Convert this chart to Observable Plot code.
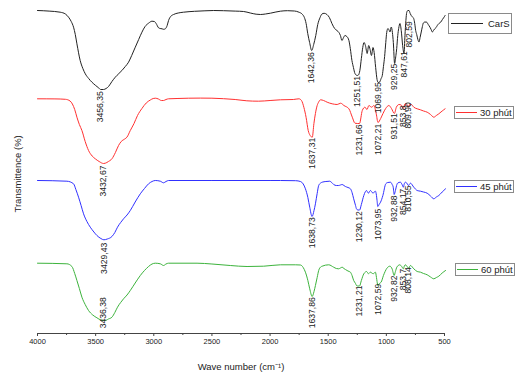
<!DOCTYPE html>
<html>
<head>
<meta charset="utf-8">
<script src="https://cdn.jsdelivr.net/npm/d3@7"></script>
<script src="https://cdn.jsdelivr.net/npm/@observablehq/plot@0.6"></script>
<style>
  html, body { margin: 0; padding: 0; background: #fff; }
  #wrap { position: relative; width: 526px; height: 379px; }
  #wrap svg { position: absolute; left: 0; top: 0; }
</style>
</head>
<body>
<div id="wrap"></div>
<script>
// ---- Data (wave number cm-1, stacked transmittance a.u.) ----
const seriesNames = ["CarS", "30 phút", "45 phút", "60 phút"];
const seriesColors = ["#222222", "#ff3030", "#3030ff", "#3cb33c"];

const carS = [
[4000,323],[3900,322.4],[3805,321.3],[3760,319.5],[3733,316.3],[3710,312],[3690,306.3],[3675,299],[3661,289.7],
[3633,273],[3610,265],[3589,259.7],[3560,255],[3532,251.3],[3500,248],[3475,245.7],[3456,244],[3432,244],[3410,245],
[3389,247],[3360,252],[3331,256.3],[3300,260],[3274,263],[3245,267],[3217,271.3],[3190,278],[3159,286.3],[3130,294],
[3102,301.3],[3075,307],[3045,310.3],[3015,312.3],[2995,312],[2980,310],[2959,305.7],[2945,305],[2929,304.7],[2915,304.2],
[2901,304.7],[2885,308],[2873,313],[2855,317],[2830,319],[2790,320.5],[2744,321.3],[2650,322.2],[2560,322.7],[2485,323],
[2400,322.8],[2300,322.4],[2227,322],[2170,320.5],[2120,319.3],[2083,319],[2040,319.5],[1997,320.3],[1950,321.5],[1911,322.3],
[1850,322.8],[1790,322.5],[1752,321.3],[1725,319.5],[1705,316],[1690,310],[1676,300],[1660,291],[1642,283],[1625,289],
[1607,298],[1590,309],[1570,316],[1554,319.5],[1535,320.2],[1511,319],[1490,316],[1468,310],[1445,305],[1425,303],
[1408,301],[1395,298],[1382,293],[1368,296],[1356,298],[1340,297],[1322,293],[1310,285],[1296,273],[1283,266],[1270,260],
[1251,258],[1240,258.5],[1228,263],[1215,275],[1203,286],[1192,291],[1180,288],[1165,280],[1152,288],[1140,284],[1128,278],
[1115,286],[1105,281],[1092,266],[1080,254],[1070,251],[1058,251.5],[1045,255],[1035,258],[1025,267],[1015,277],[1005,291],
[997,301],[986,305],[975,303],[969,301.5],[958,306.5],[948,301],[940,291],[929,270],[918,278],[911,285],[902,298],[894,305],
[883,310],[872,303],[860,288],[848,280],[840,298],[832,313],[825,321],[815,323],[805,323],[795,320],[786,318],[775,316.5],
[765,315],[756,310],[748,303],[739,299],[729,294],[719,291.5],[710,296],[700,301.5],[690,307],[682,310.5],[668,311.5],
[653,311.3],[640,309],[625,306.3],[615,304],[605,301.5],[595,303],[584,304.7],[572,306],[562,308],[548,310],[533,311.3],
[518,314],[504,316.3],[495,318]
];

const t30 = [
[4000,234.7],[3850,234.6],[3760,234.2],[3720,232.5],[3700,229.5],[3680,224],[3661,216.3],[3640,209],[3618,203],[3590,192],
[3561,183],[3530,177.5],[3503,174.7],[3470,172],[3432,170],[3417,170.3],[3390,172],[3360,174.7],[3330,181],[3303,188],
[3280,192],[3250,194.5],[3231,196.3],[3202,203],[3170,210],[3140,218],[3102,225],[3065,230.5],[3030,233.5],[3005,235],
[2987,235.3],[2960,234.5],[2935,233],[2916,233],[2895,234],[2873,234.7],[2800,235],[2700,235.3],[2600,235.4],[2500,235.3],
[2400,234.8],[2300,234],[2200,232.7],[2100,232.3],[2000,233],[1911,233.7],[1800,234],[1752,234.7],[1730,233],[1709,226],
[1690,216],[1672,203],[1655,198],[1637,196.3],[1623,210],[1610,220],[1595,228],[1582,231.5],[1566,233.7],[1540,233],
[1509,231.3],[1466,229.7],[1423,229],[1393,230.3],[1365,228],[1322,224.7],[1293,216.3],[1270,210.3],[1250,210],[1231,210],
[1207,223],[1184,226.3],[1167,224],[1150,228],[1127,226.3],[1107,228],[1087,219.7],[1072,211],[1049,215],[1029,220],
[1006,225],[978,228],[956,225],[931,220],[914,226.3],[891,229],[872,228.5],[854,225],[840,229.5],[828,229.5],[818,228],
[810,226.3],[800,229],[785,229],[764,226.3],[735,224.7],[707,223.7],[680,222.5],[649,221.3],[620,219],[592,216.3],
[570,218],[549,219.7],[520,222.5],[495,224.7]
];

const t45 = [
[4000,153],[3747,152.3],[3690,149.7],[3670,144],[3647,136.3],[3625,128],[3604,119.7],[3575,112],[3546,106.3],[3515,101.5],
[3489,98],[3455,95],[3429,93.7],[3400,94.5],[3360,97],[3335,101],[3312,106.3],[3285,111],[3260,114.7],[3230,118.5],
[3202,123],[3160,131.5],[3116,139.7],[3080,145],[3045,149.7],[3015,152],[2987,153],[2944,152.3],[2916,150.7],[2895,152],
[2873,153],[2500,153],[2000,153],[1911,153],[1780,152.8],[1739,152],[1715,149.5],[1696,144.7],[1675,136],[1659,126.3],
[1639,117],[1622,123],[1610,129.7],[1595,140],[1582,148],[1565,150.5],[1552,151.3],[1520,152],[1487,152.3],[1470,151],
[1453,149],[1430,148],[1410,148],[1395,148.5],[1380,149],[1365,148],[1352,147],[1330,146],[1309,144.7],[1295,141],
[1281,134.7],[1265,128],[1257,124.7],[1245,123.5],[1230,123.5],[1215,129],[1194,138],[1182,141.5],[1171,143],[1162,141.5],
[1154,140.3],[1145,142],[1137,143],[1125,141.5],[1113,140.3],[1105,141.5],[1094,142.3],[1085,138],[1080,133],[1074,127],
[1060,129.5],[1050,131.3],[1030,138],[1005,149.7],[988,151],[965,151.3],[950,149],[941,146.3],[933,139],[922,143],
[912,148],[902,150.5],[879,151.3],[865,149],[854,146.3],[845,150],[836,151.3],[825,150.5],[811,148],[800,149.5],
[793,150.3],[764,146.3],[735,143],[706,142.3],[680,141.5],[649,140.3],[620,137.5],[592,134.7],[570,136.5],[549,138],
[520,141.5],[491,144.7]
];

const t60 = [
[4000,70.3],[3747,69.7],[3704,67],[3680,60],[3661,53],[3640,45],[3618,36.3],[3590,29],[3561,23],[3525,18.5],[3489,15.7],
[3455,13.5],[3436,13],[3417,13],[3390,14.5],[3360,16.3],[3335,21],[3312,26.3],[3285,31],[3260,34.7],[3230,38.5],[3202,43],
[3160,50.5],[3116,58],[3080,63],[3045,67],[3015,69.5],[2987,70.3],[2944,69.7],[2916,68],[2895,69.5],[2873,70.3],[2628,70.3],
[2500,69.5],[2342,68],[2198,67],[2055,67.3],[1911,68.7],[1780,68.7],[1739,68.5],[1715,66],[1696,61.3],[1675,53],[1659,44.7],
[1638,37],[1622,42],[1610,48],[1595,56],[1582,63],[1565,66.5],[1552,67.3],[1496,68.7],[1453,66.3],[1430,65],[1410,64.7],
[1395,65.5],[1380,66.3],[1365,65],[1352,64],[1330,62.5],[1309,61.3],[1295,58],[1281,53],[1265,50],[1257,48],[1245,47.5],
[1231,47.5],[1215,53],[1194,59.7],[1182,61.3],[1171,62],[1162,61],[1154,59.7],[1145,60.5],[1137,61.3],[1125,60.5],
[1113,59.7],[1105,60.5],[1094,61.3],[1085,56],[1080,52],[1073,48],[1060,50],[1045,51.3],[1025,58],[995,65.3],[970,67.3],
[950,64.5],[933,58],[922,62],[910,66.3],[885,68.7],[868,67],[854,64.7],[845,67.5],[836,68.7],[825,67.5],[808,65.3],
[800,67],[793,68],[764,64.7],[735,62],[706,61.3],[680,60],[649,58.7],[620,56.5],[592,54.7],[570,56],[549,57.3],
[520,60.5],[491,63]
];

// Peak annotations: [wave number, label text, label top level]
const peaksCarS = [[3456.35,"3456,35",242.3],[1642.36,"1642,36",281.3],[1251.51,"1251,51",257.5],[1069.95,"1069,95",251.3],
  [929.25,"929,25",269.7],[847.61,"847,61",282.3],[802.59,"802,59",312.3]];
const peaks30 = [[3432.67,"3432,67",168],[1637.31,"1637,31",195.7],[1231.66,"1231,66",209],[1072.21,"1072,21",209.7],
  [931.51,"931,51",220.3],[853.8,"853,8",228],[809.90,"809,90",231.3]];
const peaks45 = [[3429.43,"3429,43",90.7],[1638.73,"1638,73",116.3],[1230.12,"1230,12",122.3],[1073.95,"1073,95",124.7],
  [932.88,"932,88",138],[854.17,"854,17",144.7],[810.55,"810,55",148]];
const peaks60 = [[3436.38,"3436,38",36.3],[1637.86,"1637,86",36.3],[1231.21,"1231,21",48],[1072.59,"1072,59",49.7],
  [932.82,"932,82",58],[853.7,"853,7",64.7],[808.14,"808,14",66.3]];

const majorTicks = [4000, 3500, 3000, 2500, 2000, 1500, 1000, 500];
const minorTicks = [3750, 3250, 2750, 2250, 1750, 1250, 750];
const xLabel = "Wave number (cm\u207B\u00B9)";
const yLabel = "Transmittence (%)";

// ---- Build tables ----
const allSeries = [carS, t30, t45, t60];
const lineRows = allSeries.flatMap((s, i) => s.map(([w, t]) => ({w, t, name: seriesNames[i]})));
const peakRows = [peaksCarS, peaks30, peaks45, peaks60].flatMap(p => p.map(([w, label, t]) => ({w, label, t})));

const FONT = "'Liberation Sans', Arial, Helvetica, sans-serif";

const chart = Plot.plot({
  width: 526,
  height: 379,
  marginLeft: 37,
  marginRight: 82,
  marginTop: 5,
  marginBottom: 46,
  style: {fontFamily: FONT, background: "#fff", color: "#333"},
  x: {domain: [4000, 500]},
  y: {domain: [0, 328], axis: null},
  color: {domain: seriesNames, range: seriesColors},
  marks: [
    Plot.ruleY([0], {stroke: "#444", strokeWidth: 1}),
    Plot.axisX({ticks: majorTicks, tickSize: 3, tickPadding: 2, tickFormat: d => String(d), fontSize: 7.5, label: null, stroke: "#444", fill: "#222"}),
    Plot.axisX({ticks: minorTicks, tickSize: 2, tickFormat: () => "", label: null, stroke: "#444"}),
    Plot.line(lineRows, {x: "w", y: "t", z: "name", stroke: "name", strokeWidth: 1, curve: "monotone-x"}),
    Plot.text(peakRows, {x: "w", y: "t", text: "label", rotate: -90, textAnchor: "end", lineAnchor: "middle", fontSize: 8.6, fill: "#222"}),
    Plot.text([xLabel], {frameAnchor: "bottom", dy: 36, text: d => d, fontSize: 9.5, fill: "#222"}),
    Plot.text([yLabel], {frameAnchor: "left", dx: -20, dy: 43, rotate: -90, text: d => d, fontSize: 9.5, fill: "#222"})
  ]
});

const wrap = document.getElementById("wrap");
wrap.appendChild(chart);

// ---- Legend boxes (right side) ----
const legendBoxes = [
  {name: seriesNames[0], color: seriesColors[0], x0: 448, x1: 511, y0: 13, y1: 33, l0: 451, l1: 483, tx: 488},
  {name: seriesNames[1], color: seriesColors[1], x0: 454, x1: 513, y0: 106, y1: 118, l0: 456, l1: 477, tx: 480},
  {name: seriesNames[2], color: seriesColors[2], x0: 454, x1: 513, y0: 180, y1: 192, l0: 456, l1: 477, tx: 480},
  {name: seriesNames[3], color: seriesColors[3], x0: 455, x1: 514, y0: 263, y1: 275, l0: 457, l1: 478, tx: 481}
];
const overlay = d3.create("svg").attr("width", 526).attr("height", 379)
  .style("pointer-events", "none").style("font-family", FONT);
const g = overlay.selectAll("g").data(legendBoxes).join("g");
g.append("rect").attr("x", d => d.x0 + 0.5).attr("y", d => d.y0 + 0.5)
  .attr("width", d => d.x1 - d.x0).attr("height", d => d.y1 - d.y0)
  .attr("fill", "#fff").attr("stroke", "#8a8a8a").attr("stroke-width", 1);
g.append("line").attr("x1", d => d.l0).attr("x2", d => d.l1)
  .attr("y1", d => (d.y0 + d.y1) / 2 + 0.5).attr("y2", d => (d.y0 + d.y1) / 2 + 0.5)
  .attr("stroke", d => d.color).attr("stroke-width", 1);
g.append("text").attr("x", d => d.tx).attr("y", d => (d.y0 + d.y1) / 2 + 0.5)
  .attr("dy", "0.35em").attr("font-size", 9.5).attr("fill", "#222").text(d => d.name);
wrap.appendChild(overlay.node());
</script>
</body>
</html>
